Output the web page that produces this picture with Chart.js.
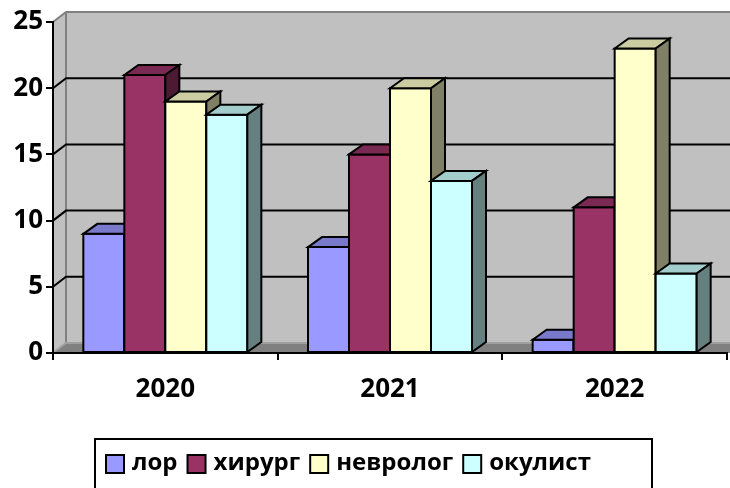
<!DOCTYPE html>
<html>
<head>
<meta charset="utf-8">
<script src="https://cdn.jsdelivr.net/npm/chart.js@4"></script>
<style>
    html, body { margin: 0; padding: 0; background: #fff; }
    canvas { display: block; }
</style>
</head>
<body>
<canvas id="chart" width="730" height="488"></canvas>
<script>
// данные
const years = ["2020", "2021", "2022"];
const seriesNames = ["лор", "хирург", "невролог", "окулист"];
const lor = [9, 8, 1];
const surgeon = [21, 15, 11];
const neuro = [19, 20, 23];
const oculist = [18, 13, 6];
const yTicks = [0, 5, 10, 15, 20, 25];

const colors = ["#9999ff", "#993366", "#ffffcc", "#ccffff"];

const FONT = "'Open Sans', 'DejaVu Sans', sans-serif";
const DX = 14, DY = 10;   // глубина 3D
const WX = 13, WY = 10;   // глубина стенок

function shade(hex, k) {
    const n = parseInt(hex.slice(1), 16);
    const r = Math.round(((n >> 16) & 255) * k);
    const g = Math.round(((n >> 8) & 255) * k);
    const b = Math.round((n & 255) * k);
    return `rgb(${r},${g},${b})`;
}

function poly(ctx, pts, fill, stroke, lw) {
    ctx.beginPath();
    ctx.moveTo(pts[0][0], pts[0][1]);
    for (let i = 1; i < pts.length; i++) ctx.lineTo(pts[i][0], pts[i][1]);
    ctx.closePath();
    if (fill) { ctx.fillStyle = fill; ctx.fill(); }
    if (stroke) { ctx.strokeStyle = stroke; ctx.lineWidth = lw; ctx.stroke(); }
}

// стенки, пол и линии сетки
const wallsPlugin = {
    id: "walls",
    beforeDraw(chart) {
        const ctx = chart.ctx;
        const a = chart.chartArea;
        const y = chart.scales.y;
        const W = chart.width;
        const top = y.getPixelForValue(25);
        const bot = y.getPixelForValue(0);

        ctx.save();
        ctx.lineJoin = "miter";
        // задняя стенка
        poly(ctx, [[a.left + WX, top - WY], [W + 5, top - WY], [W + 5, bot - WY], [a.left + WX, bot - WY]], "#c0c0c0");
        // боковая стенка
        poly(ctx, [[a.left, top], [a.left + WX, top - WY], [a.left + WX, bot - WY], [a.left, bot]], "#c0c0c0");
        // пол
        poly(ctx, [[a.left, bot], [a.left + WX, bot - WY], [W + 5, bot - WY], [W + 5, bot]], "#808080");

        // края стенок
        ctx.strokeStyle = "#808080";
        ctx.lineWidth = 2;
        ctx.beginPath();
        ctx.moveTo(a.left, top);
        ctx.lineTo(a.left + WX, top - WY);
        ctx.lineTo(W + 5, top - WY);
        ctx.moveTo(a.left + WX, top - WY);
        ctx.lineTo(a.left + WX, bot - WY);
        ctx.stroke();
        ctx.strokeStyle = "#a0a0a0";
        ctx.beginPath();
        ctx.moveTo(a.left + 1, bot - 1);
        ctx.lineTo(a.left + WX, bot - WY);
        ctx.lineTo(W + 5, bot - WY);
        ctx.stroke();

        // сетка
        ctx.strokeStyle = "#000";
        ctx.lineWidth = 2;
        yTicks.forEach(v => {
            if (v === 0 || v === 25) return;
            const p = y.getPixelForValue(v);
            ctx.beginPath();
            ctx.moveTo(a.left, p);
            ctx.lineTo(a.left + WX, p - WY);
            ctx.lineTo(W + 5, p - WY);
            ctx.stroke();
        });
        ctx.restore();
    },
    afterDatasetsDraw(chart) {
        const ctx = chart.ctx;
        ctx.save();
        ctx.lineJoin = "miter";
        ctx.lineWidth = 2;
        years.forEach((yr, i) => {
            chart.data.datasets.forEach((ds, d) => {
                const el = chart.getDatasetMeta(d).data[i];
                const p = el.getProps(["x", "y", "base", "width"], true);
                const x0 = p.x - p.width / 2, x1 = p.x + p.width / 2;
                const yt = p.y, yb = p.base;
                const c = colors[d];
                poly(ctx, [[x0, yt], [x1, yt], [x1, yb], [x0, yb]], c, "#000", 2);
                poly(ctx, [[x0, yt], [x0 + DX, yt - DY], [x1 + DX, yt - DY], [x1, yt]], shade(c, 0.8), "#000", 2);
                poly(ctx, [[x1, yt], [x1 + DX, yt - DY], [x1 + DX, yb - DY], [x1, yb]], shade(c, 0.5), "#000", 2);
            });
        });
        ctx.restore();
    },
    afterDraw(chart) {
        // легенда в рамке
        const ctx = chart.ctx;
        ctx.save();
        ctx.font = "bold 24px " + FONT;
        ctx.textBaseline = "middle";
        const cy = 464;
        let x = 106;
        chart.data.datasets.forEach((ds, d) => {
            ctx.fillStyle = colors[d];
            ctx.fillRect(x, cy - 9, 18, 18);
            ctx.strokeStyle = "#000";
            ctx.lineWidth = 2;
            ctx.strokeRect(x, cy - 9, 18, 18);
            x += 26;
            ctx.fillStyle = "#000";
            ctx.fillText(ds.label, x, cy - 1);
            x += ctx.measureText(ds.label).width + 10;
        });
        ctx.strokeStyle = "#000";
        ctx.lineWidth = 2;
        ctx.strokeRect(95, 439, 557, 80);
        ctx.restore();
    }
};

const seriesData = [lor, surgeon, neuro, oculist];

new Chart(document.getElementById("chart"), {
    type: "bar",
    data: {
        labels: years,
        datasets: seriesNames.map((name, d) => ({
            label: name,
            data: seriesData[d],
            backgroundColor: colors[d],
            borderColor: "#000",
            borderWidth: 0,
            categoryPercentage: 0.73,
            barPercentage: 1
        }))
    },
    options: {
        responsive: false,
        animation: false,
        events: [],
        layout: { padding: { top: 22, right: 3, left: 0, bottom: 0 } },
        plugins: {
            legend: { display: false },
            tooltip: { enabled: false }
        },
        scales: {
            x: {
                afterFit(scale) { scale.height = 135; },
                grid: {
                    offset: true,
                    drawOnChartArea: false,
                    tickLength: 7,
                    tickColor: "#000",
                    lineWidth: 2
                },
                border: { color: "#000", width: 2 },
                ticks: {
                    color: "#000",
                    padding: 14,
                    font: { family: FONT, size: 26, weight: "bold" }
                }
            },
            y: {
                min: 0,
                max: 25,
                afterFit(scale) { scale.width = 53; },
                afterBuildTicks(scale) {
                    scale.ticks = yTicks.map(v => ({ value: v }));
                },
                grid: {
                    drawOnChartArea: false,
                    tickLength: 7,
                    tickColor: "#000",
                    lineWidth: 2
                },
                border: { color: "#000", width: 2 },
                ticks: {
                    color: "#000",
                    padding: 3,
                    font: { family: FONT, size: 26, weight: "bold" }
                }
            }
        }
    },
    plugins: [wallsPlugin]
});
</script>
</body>
</html>
